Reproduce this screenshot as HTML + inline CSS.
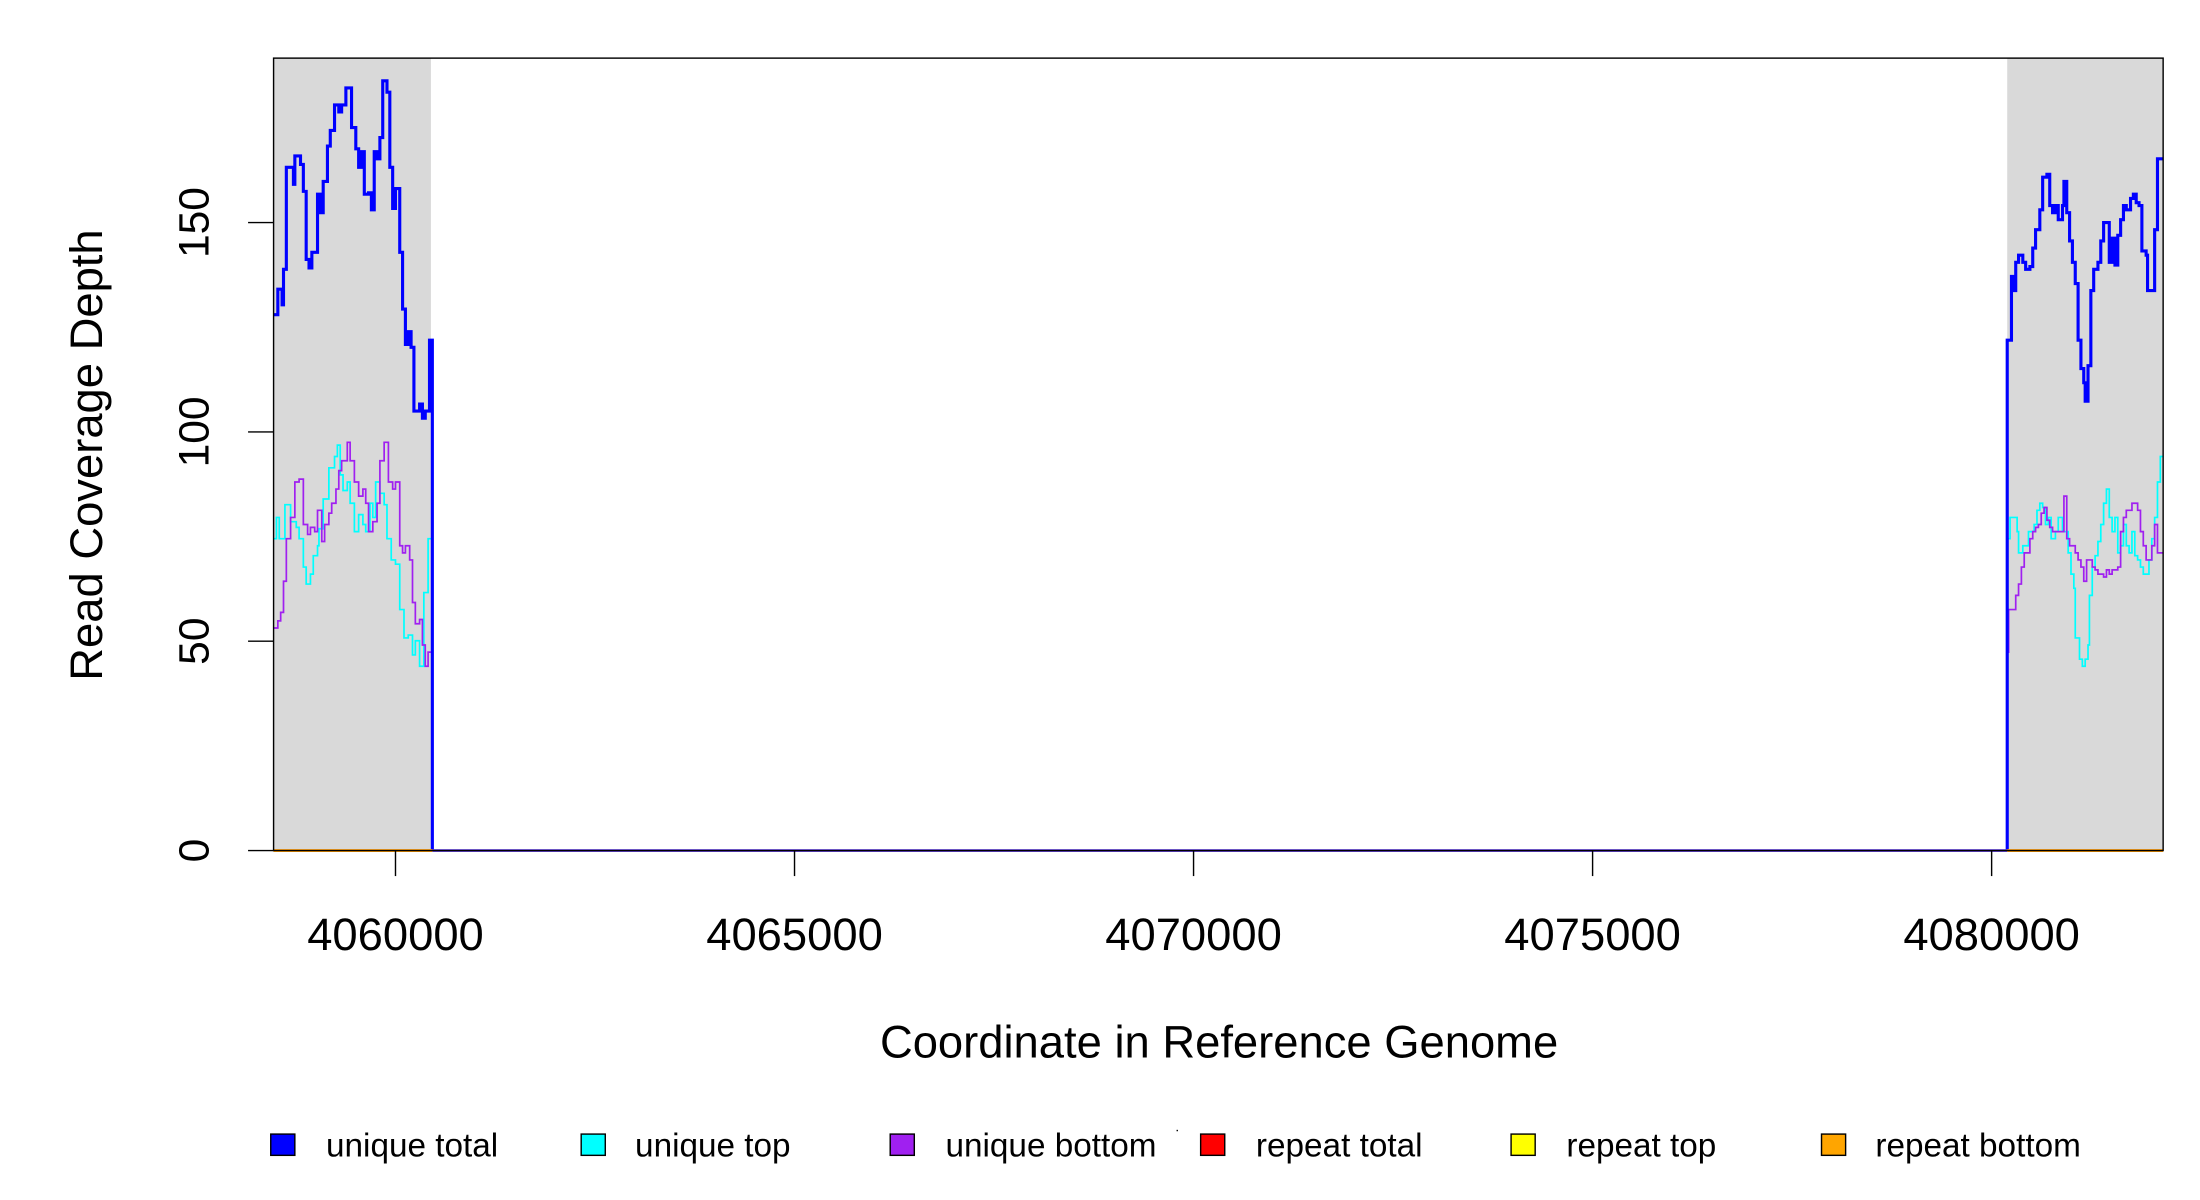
<!DOCTYPE html>
<html><head><meta charset="utf-8"><style>
html,body{margin:0;padding:0;background:#fff;width:2200px;height:1200px;overflow:hidden}
svg{display:block}
text{font-family:"Liberation Sans",Arial,sans-serif;fill:#000}
</style></head><body>
<svg id="s" width="2200" height="1200" viewBox="0 0 1552 846.5" preserveAspectRatio="none" xmlns="http://www.w3.org/2000/svg">
<rect x="0" y="0" width="1552" height="846.5" fill="#fff"/>
<rect x="193" y="41" width="111" height="559" fill="#d9d9d9"/>
<rect x="1416" y="41" width="110" height="559" fill="#d9d9d9"/>
<g id="series"></g>
<line x1="305" y1="600" x2="1416" y2="600" stroke="#6a4ae0" stroke-width="2"/>
<line x1="193" y1="600" x2="305" y2="600" stroke="#ff9900" stroke-width="2"/>
<line x1="1416" y1="600" x2="1526" y2="600" stroke="#ff9900" stroke-width="2"/>
<rect x="193" y="41" width="1333" height="559" fill="none" stroke="#000" stroke-width="1"/>
<g stroke="#000" stroke-width="1">
<line x1="175" y1="600" x2="193" y2="600"/><line x1="175" y1="452.3" x2="193" y2="452.3"/>
<line x1="175" y1="304.7" x2="193" y2="304.7"/><line x1="175" y1="157" x2="193" y2="157"/>
<line x1="279" y1="600" x2="279" y2="618"/><line x1="560.5" y1="600" x2="560.5" y2="618"/>
<line x1="842" y1="600" x2="842" y2="618"/><line x1="1123.5" y1="600" x2="1123.5" y2="618"/>
<line x1="1405" y1="600" x2="1405" y2="618"/>
</g>
<g font-size="30" text-anchor="middle">
<text transform="translate(147,600) rotate(-90)">0</text>
<text transform="translate(147,452.3) rotate(-90)">50</text>
<text transform="translate(147,304.7) rotate(-90)">100</text>
<text transform="translate(147,157) rotate(-90)">150</text>
<text transform="translate(72,321) rotate(-90)" font-size="32">Read Coverage Depth</text>
<g font-size="32">
<text x="279" y="670">4060000</text>
<text x="560.5" y="670">4065000</text>
<text x="842" y="670">4070000</text>
<text x="1123.5" y="670">4075000</text>
<text x="1405" y="670">4080000</text>
<text x="860" y="746">Coordinate in Reference Genome</text>
</g>
</g>
<g font-size="23.5" stroke-width="1">
<rect x="191" y="800" width="17" height="15" fill="#0000ff" stroke="#000"/><text x="230" y="816">unique total</text>
<rect x="410" y="800" width="17" height="15" fill="#00ffff" stroke="#000"/><text x="448" y="816">unique top</text>
<rect x="628" y="800" width="17" height="15" fill="#a020f0" stroke="#000"/><text x="667" y="816">unique bottom</text>
<rect x="847" y="800" width="17" height="15" fill="#ff0000" stroke="#000"/><text x="886" y="816">repeat total</text>
<rect x="1066" y="800" width="17" height="15" fill="#ffff00" stroke="#000"/><text x="1105" y="816">repeat top</text>
<rect x="1285" y="800" width="17" height="15" fill="#ffa500" stroke="#000"/><text x="1323" y="816">repeat bottom</text>
<rect x="830" y="797" width="1" height="1" fill="#000"/>
</g>
</svg>
<script>
var D={
bl:[193,222,196,204,199,215,200,190,202,118,207,130,208,110,212,116,214,135,216,183,218,189,220,178,224,137,226,150,228,128,231,103,233,92,236,74,239,79,241,74,244,62,248,90,251,105,253,118,255,107,257,137,260,136,262,148,264,107,266,112,268,97,270,57,273,65,275,118,277,147,279,133,282,178,284,218,286,243,288,234,290,245,292,290,296,285,298,295,300,290,303,240,305,600],
cl:[193,380,195,365,197,380,201,356,205,368,209,372,211,380,214,400,216,412,219,405,221,392,224,385,225,373,228,352,232,330,236,322,238,314,240,335,242,346,245,340,247,355,250,375,253,363,256,370,258,375,261,355,263,365,265,340,268,348,271,356,273,380,276,395,279,398,282,430,285,450,288,448,291,462,293,452,296,470,299,418,302,380,305,600],
pl:[193,443,196,438,198,432,200,410,202,380,205,365,208,340,211,338,214,370,217,377,219,372,222,375,224,360,227,382,229,370,232,362,234,355,237,345,239,332,241,325,245,312,247,325,250,340,253,350,256,345,258,355,260,375,263,368,266,355,268,325,271,312,274,340,277,345,279,340,282,385,284,390,286,385,289,395,291,425,293,440,296,437,298,455,300,470,302,460,305,600],
br:[1416,600,1416,240,1419,195,1421,205,1422,185,1424,180,1427,185,1429,190,1432,188,1434,175,1436,162,1439,148,1441,125,1444,123,1446,145,1448,150,1450,145,1452,155,1455,145,1456,128,1458,150,1460,170,1462,185,1464,200,1466,240,1468,260,1470,270,1471,283,1473,258,1475,205,1477,190,1480,185,1482,170,1484,157,1487,157,1488,185,1490,168,1492,187,1494,166,1496,155,1498,145,1500,148,1503,140,1505,137,1507,143,1509,145,1511,177,1514,180,1515,205,1519,205,1520,162,1522,112,1526,112],
cr:[1416,600,1416,380,1418,365,1421,365,1423,375,1424,390,1427,385,1429,385,1431,375,1433,375,1435,370,1437,360,1439,355,1441,358,1443,370,1445,365,1447,380,1450,375,1452,365,1455,375,1459,390,1461,405,1463,415,1464,450,1467,465,1469,470,1471,465,1473,455,1474,420,1476,400,1478,392,1480,382,1482,370,1484,355,1486,345,1488,365,1490,375,1492,365,1494,390,1496,385,1498,370,1500,385,1502,390,1504,375,1506,392,1508,395,1510,400,1512,405,1514,405,1516,395,1518,380,1520,365,1522,340,1524,322,1526,322],
pr:[1416,600,1416,460,1417,430,1420,430,1422,420,1424,412,1426,400,1428,390,1430,390,1432,380,1434,375,1436,372,1438,370,1440,362,1442,358,1444,367,1446,372,1448,375,1450,375,1454,375,1456,350,1458,380,1460,385,1464,390,1466,395,1468,400,1470,410,1472,395,1476,400,1478,402,1480,405,1484,407,1486,402,1488,405,1490,402,1494,400,1496,375,1498,365,1500,360,1504,355,1508,360,1510,375,1512,385,1514,395,1516,395,1518,385,1520,370,1522,390,1526,390]};
function step(a){var d="M"+a[0]+" "+a[1];for(var i=2;i<a.length;i+=2){d+=" H"+a[i]+" V"+a[i+1];}return d;}
var g=document.getElementById("series"),ns="http://www.w3.org/2000/svg";
function add(k,c,w){var p=document.createElementNS(ns,"path");p.setAttribute("d",step(D[k]));p.setAttribute("fill","none");p.setAttribute("stroke",c);p.setAttribute("stroke-width",w);g.appendChild(p);}
add("cl","#00ffff",1.2);add("cr","#00ffff",1.2);
add("pl","#a020f0",1.2);add("pr","#a020f0",1.2);
add("bl","#0000ff",2.2);add("br","#0000ff",2.2);
</script>
</body></html>
